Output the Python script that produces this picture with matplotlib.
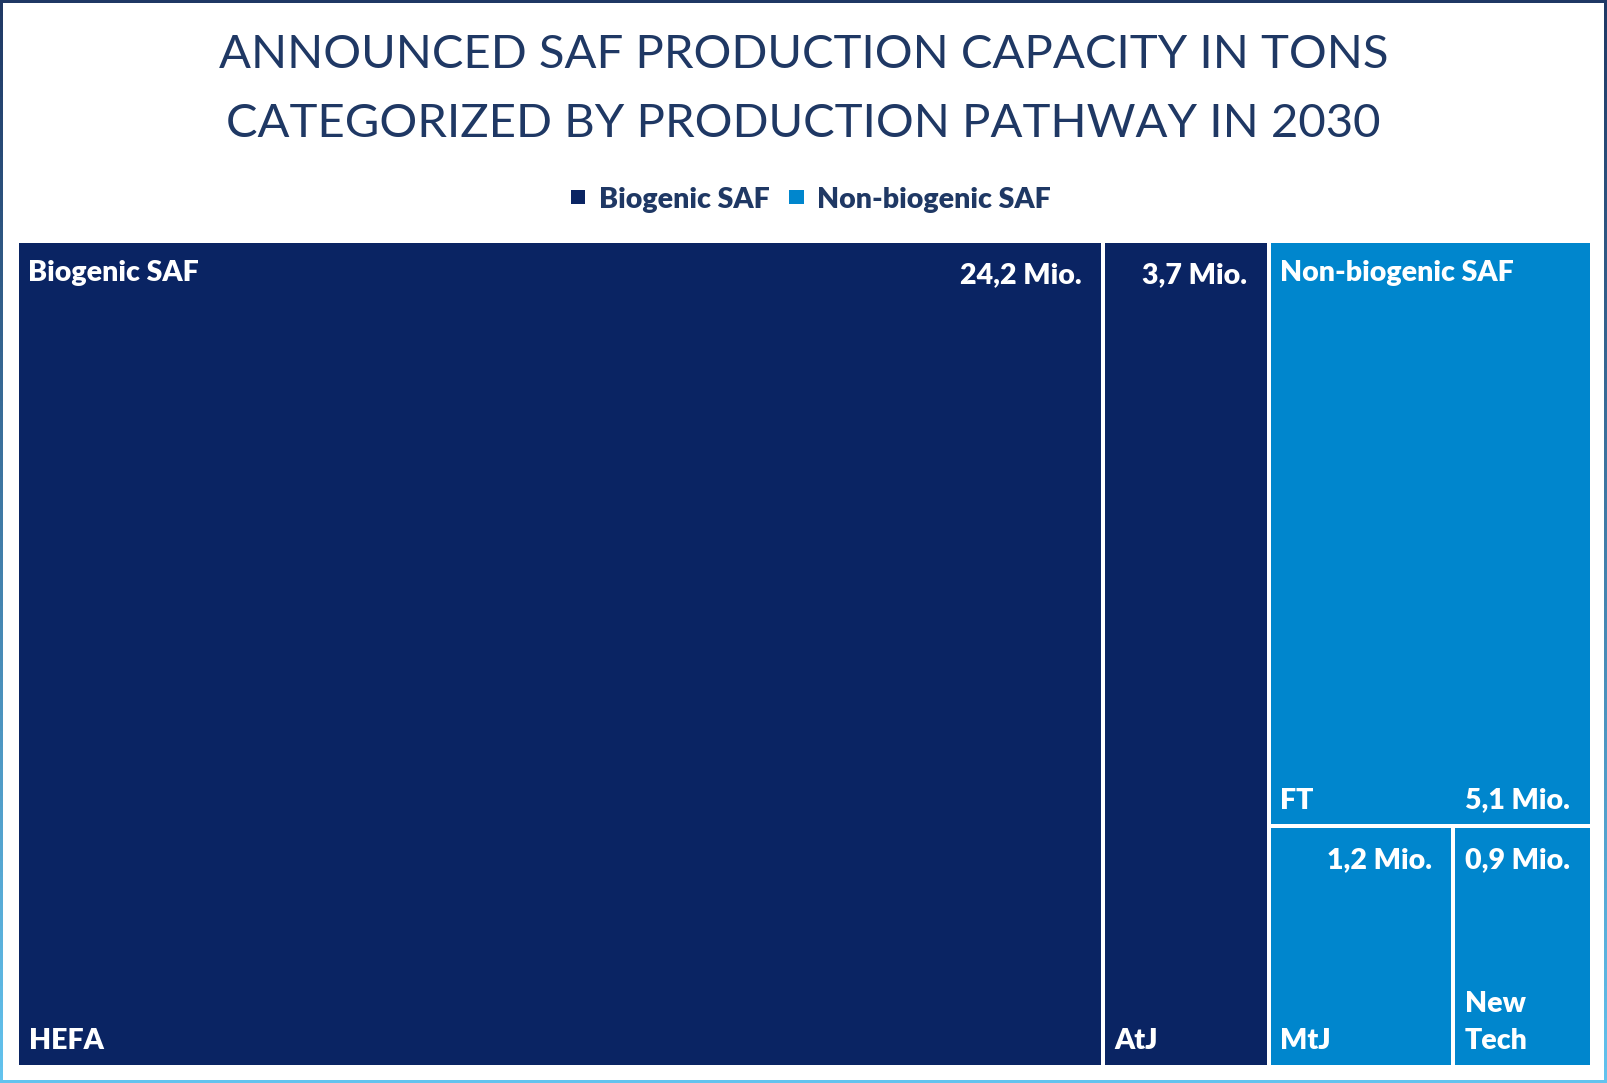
import matplotlib
matplotlib.use("Agg")
import matplotlib.pyplot as plt
from matplotlib.patches import Rectangle
import numpy as np
from matplotlib.colors import to_rgb

# ---- data ----
groups = ["Biogenic SAF", "Non-biogenic SAF"]
bio_labels = ["HEFA", "AtJ"]
bio_values = [24.2, 3.7]
nonbio_labels = ["FT", "MtJ", "New\nTech"]
nonbio_values = [5.1, 1.2, 0.9]
value_texts = {"HEFA": "24,2 Mio.", "AtJ": "3,7 Mio.", "FT": "5,1 Mio.",
               "MtJ": "1,2 Mio.", "New\nTech": "0,9 Mio."}

DARK = "#0A2463"
LIGHT = "#0086CD"
TITLE_C = "#1F3864"
FONT = "Lato"
WEIGHT = "heavy"

W, H = 1607, 1083
fig = plt.figure(figsize=(W / 100, H / 100), dpi=100)
ax = fig.add_axes([0, 0, 1, 1])
WD = 1568.0
HD = H * WD / W
ax.set_xlim(0, WD)
ax.set_ylim(HD, 0)
ax.axis("off")
px = WD / W

# gradient border
top_c = np.array(to_rgb("#1F3864"))
bot_c = np.array(to_rgb("#63C3EE"))
t = np.linspace(0, 1, 200)[:, None, None]
grad = top_c * (1 - t) + bot_c * t
grad = np.repeat(grad, 2, axis=1)
ax.imshow(grad, extent=(0, WD, HD, 0), aspect="auto", zorder=0)
ax.add_patch(Rectangle((3 * px, 3 * px), WD - 6 * px, HD - 6 * px,
                       facecolor="white", edgecolor="none", zorder=1))

# title
ax.text(WD / 2, 87, "ANNOUNCED SAF PRODUCTION CAPACITY IN TONS\nCATEGORIZED BY PRODUCTION PATHWAY IN 2030",
        ha="center", va="center", fontsize=34, color=TITLE_C, family=FONT,
        linespacing=1.8, zorder=3)

FS = 20.5
# legend
leg_y = 192
for xs, xt, c, lab in [(557, 584, DARK, groups[0]), (770, 797, LIGHT, groups[1])]:
    ax.add_patch(Rectangle((xs, leg_y - 7), 14, 14, facecolor=c, edgecolor="none", zorder=3))
    ax.text(xt, leg_y + 1, lab, ha="left", va="center_baseline", fontsize=FS, fontweight=WEIGHT,
            color=TITLE_C, family=FONT, zorder=3)

# treemap layout
x0, y0, x1, y1 = 19, 237, 1551, 1039
gap = 4
tw = x1 - x0 + gap
th = y1 - y0 + gap
total = sum(bio_values) + sum(nonbio_values)
nb_total = sum(nonbio_values)

rects = {}
cx = x0
for lab, v in zip(bio_labels, bio_values):
    w = tw * v / total
    rects[lab] = (cx, y0, w - gap, th - gap, DARK)
    cx += w
nb_w = tw * nb_total / total
ft_h = th * nonbio_values[0] / nb_total
rects[nonbio_labels[0]] = (cx, y0, nb_w - gap, ft_h - gap, LIGHT)
rest = sum(nonbio_values[1:])
cx2 = cx
for lab, v in zip(nonbio_labels[1:], nonbio_values[1:]):
    w = nb_w * v / rest
    rects[lab] = (cx2, y0 + ft_h, w - gap, th - ft_h - gap, LIGHT)
    cx2 += w

tk = dict(color="white", fontsize=FS, fontweight=WEIGHT, family=FONT, zorder=4)
for lab, (rx, ry, rw, rh, c) in rects.items():
    ax.add_patch(Rectangle((rx, ry), rw, rh, facecolor=c, edgecolor="none", zorder=2))
    ax.text(rx + 9, ry + rh - 15, lab, ha="left", va="baseline", linespacing=1.55, **tk)
    if lab == "FT":
        ax.text(rx + rw - 19, ry + rh - 15, value_texts[lab], ha="right", va="baseline", **tk)
    else:
        ax.text(rx + rw - 19, ry + 39, value_texts[lab], ha="right", va="baseline", **tk)

# group labels
ax.text(rects["HEFA"][0] + 8, y0 + 37, groups[0], ha="left", va="baseline", **tk)
ax.text(rects["FT"][0] + 9, y0 + 37, groups[1], ha="left", va="baseline", **tk)

fig.savefig("out.png", dpi=100)
